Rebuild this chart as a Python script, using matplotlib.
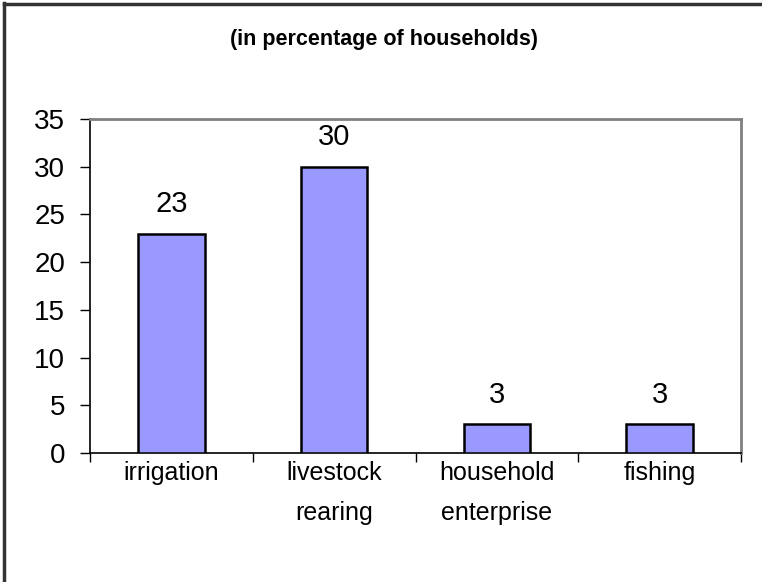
import matplotlib
matplotlib.use("Agg")
import matplotlib.pyplot as plt
from matplotlib.lines import Line2D

plt.rcParams['font.family'] = ['Liberation Sans', 'DejaVu Sans']

categories = ["irrigation", "livestock\nrearing", "household\nenterprise", "fishing"]
values = [23, 30, 3, 3]
yticks = [0, 5, 10, 15, 20, 25, 30, 35]
title = "(in percentage of households)"

W, H = 762, 582
fig = plt.figure(figsize=(W / 100, H / 100), dpi=100)
ax = fig.add_axes([90 / W, 1 - 453 / H, 651 / W, 334 / H])

x = list(range(len(values)))
ax.bar(x, values, width=0.41, color="#9999FF", edgecolor="black", linewidth=1.8, zorder=3)

for xi, v in zip(x, values):
    ax.annotate(str(v), (xi, v), xytext=(0, 11), textcoords="offset points",
                ha="center", va="bottom", fontsize=21)

ax.set_xlim(-0.5, len(values) - 0.5)
ax.set_ylim(0, 35)
ax.set_yticks(yticks)
ax.tick_params(axis="y", direction="out", length=7, width=1, labelsize=20, pad=11)

# category boundaries carry the tick marks, labels sit between them
ax.set_xticks([i - 0.5 for i in range(len(values) + 1)])
ax.set_xticklabels([])
ax.tick_params(axis="x", which="major", direction="out", length=6.5, width=1)
ax.set_xticks(x, minor=True)
ax.set_xticklabels(categories, minor=True, fontsize=18)
ax.tick_params(axis="x", which="minor", length=0, pad=6)
for lbl in ax.get_xticklabels(minor=True):
    lbl.set_linespacing(1.8)

for side in ("top", "right"):
    ax.spines[side].set_color("#808080")
    ax.spines[side].set_linewidth(2)
for side in ("left", "bottom"):
    ax.spines[side].set_color("black")
    ax.spines[side].set_linewidth(1.2)

fig.text(384 / W, 1 - 40 / H, title, ha="center", va="center",
         fontsize=15.5, fontweight="bold")

# frame edges around the chart area
fig.add_artist(Line2D([3.5 / W, 3.5 / W], [0, 1 - 3 / H], color="#333333", lw=2.5))
fig.add_artist(Line2D([3.5 / W, 1], [1 - 3.5 / H, 1 - 3.5 / H], color="#333333", lw=2.5))

fig.savefig("out.png", dpi=100)
